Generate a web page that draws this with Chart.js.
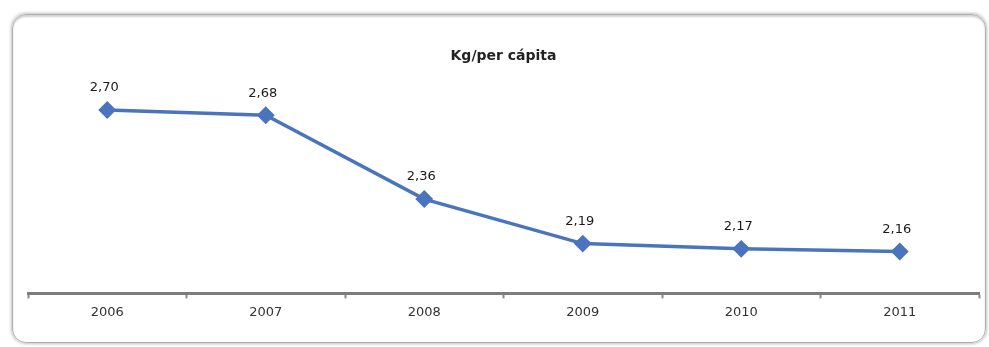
<!DOCTYPE html>
<html>
<head>
<meta charset="utf-8">
<script src="https://cdn.jsdelivr.net/npm/chart.js@4/dist/chart.umd.min.js"></script>
<style>
  html, body { margin: 0; padding: 0; background: #fff; }
  #wrap { position: relative; width: 989px; height: 347px; }
  #frame {
    position: absolute; left: 12px; top: 14px; width: 972px; height: 327px;
    border: 1px solid #b0b0b0; border-radius: 14px;
    box-shadow: 0 0 3px 1px rgba(0,0,0,0.25), inset 0 2px 2px rgba(0,0,0,0.18);
  }
  canvas { position: absolute; left: 0; top: 0; }
</style>
</head>
<body>
<div id="wrap">
  <div id="frame"></div>
  <canvas id="chart" width="989" height="347"></canvas>
</div>
<script>
// anys i quilos per càpita
const years = ["2006", "2007", "2008", "2009", "2010", "2011"];
const kgPerCapita = [2.70, 2.68, 2.36, 2.19, 2.17, 2.16];
const valueLabels = ["2,70", "2,68", "2,36", "2,19", "2,17", "2,16"];

const lineBlue = "#4a74bd";
const font = "'DejaVu Sans', Verdana, sans-serif";

// etiquetes de valor damunt de cada punt
const pointLabels = {
  id: "pointLabels",
  afterDatasetsDraw(chart) {
    const ctx = chart.ctx;
    const meta = chart.getDatasetMeta(0);
    ctx.save();
    ctx.font = "13px " + font;
    ctx.fillStyle = "#1a1a1a";
    ctx.textAlign = "center";
    ctx.textBaseline = "middle";
    meta.data.forEach((pt, i) => {
      ctx.fillText(valueLabels[i], pt.x - 3, pt.y - 22);
    });
    ctx.restore();
  }
};

new Chart(document.getElementById("chart"), {
  type: "line",
  data: {
    labels: years,
    datasets: [{
      data: kgPerCapita,
      borderColor: lineBlue,
      backgroundColor: lineBlue,
      borderWidth: 3.5,
      pointStyle: "rectRot",
      pointRadius: 6.5,
      pointHoverRadius: 6.5,
      tension: 0
    }]
  },
  options: {
    responsive: false,
    animation: false,
    layout: { padding: { left: 28, right: 10, top: 0, bottom: 21 } },
    plugins: {
      legend: { display: false },
      tooltip: { enabled: false },
      title: {
        display: true,
        text: "Kg/per cápita",
        color: "#222",
        font: { family: font, size: 14, weight: "bold" },
        padding: { top: 48, bottom: 19 }
      }
    },
    scales: {
      x: {
        offset: true,
        grid: {
          offset: true,
          drawOnChartArea: false,
          drawTicks: true,
          tickLength: 5,
          tickWidth: 2,
          color: "#888"
        },
        border: { display: true, color: "#7c7c7c", width: 3 },
        ticks: {
          color: "#333",
          padding: 6,
          font: { family: font, size: 13 }
        }
      },
      y: {
        display: false,
        min: 2.0,
        max: 2.8
      }
    }
  },
  plugins: [pointLabels]
});
</script>
</body>
</html>
